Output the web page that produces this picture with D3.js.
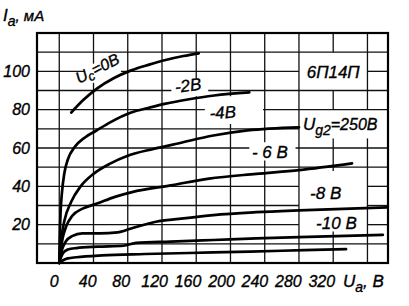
<!DOCTYPE html>
<html><head><meta charset="utf-8">
<script src="https://cdn.jsdelivr.net/npm/d3@7"></script>
<style>
body{margin:0;background:#fff}
#wrap{position:relative;width:409px;height:306px}
#wrap svg{position:absolute;left:0;top:0;display:block}
</style>
</head><body><div id="wrap"><svg id="bg" width="409" height="306"></svg><svg id="c" width="409" height="306"></svg></div>
<script>
// ---- data ----
const xTicks = [0,40,80,120,160,200,240,280,320];
const yTicks = [20,40,60,80,100];
const gridV = [0,40,80,120,160,200,240,280,320,360];
const gridI = [10,20,30,40,50,60,70,80,90,100,110];
const ucLabels = ["-2В","-4В","- 6 В","-8 В","-10 В"];
const uc0  = [[14,78.5],[28,85],[44,91],[64,96.5],[84,100.5],[105,103.5],[123,105.8],[145,108],[163,109.4]];
const uc2  = [[0,0],[0.5,12],[1.5,26],[3,36],[6,47],[10,54],[18,60.5],[30,65.5],[43,69],[60,73.5],[84,78.5],[105,81],[123,83],[150,85.3],[181,87.4],[222,89]];
const uc4  = [[0,0],[1,6],[2.5,13],[6,22],[14,32],[25,40],[40,46.5],[60,52],[80,56],[110,59.5],[140,62.5],[180,66.5],[220,69.2],[280,70.8]];
const uc6  = [[0,0],[1.5,6],[4,13],[8,19],[15,24.5],[28,28.5],[44,31],[65,34.5],[85,37],[130,40.5],[175,44],[230,46.5],[280,48.5],[342,52]];
const uc8  = [[0,0],[1.5,4],[4,8],[8,11.5],[15,14],[27,15.5],[47,15.5],[68,16],[84,18],[113,21.5],[140,23],[180,25],[230,26.5],[280,27.5],[383,29]];
const uc10 = [[0,0],[2,3],[5,5.5],[10,7],[20,7.8],[45,8.5],[75,9],[90,10.5],[130,11.2],[180,12],[230,12.8],[280,13.5],[378,14.7]];
const uc12 = [[0,0],[4,1.3],[10,2.4],[20,3],[50,4],[100,4.7],[180,5.5],[260,6.4],[335,7.2]];
const series = [uc0,uc2,uc4,uc6,uc8,uc10,uc12];
// grid gaps behind labels [V0,V1,I0,I1]
const gaps = [
  [280,360,90,110],[280,384,65,80],[280,360,29.5,48],[280,360,16.5,27.5],[310,330,16.5,48],
  [222,276,53.5,63],[170,238,72.5,87],[131,174,87,96],[30,72,94,104]
];

// ---- layout ----
const bg = d3.select('#bg');
const svg = d3.select('#c');
const x = d3.scaleLinear().domain([-26,384]).range([37,388]);
const y = d3.scaleLinear().domain([0,120]).range([263,33]);
const FONT = "Liberation Sans";

function cut(a0, a1, holes){
  let segs = [[a0,a1]];
  holes.forEach(([h0,h1])=>{
    const out=[];
    segs.forEach(([s0,s1])=>{
      if (h1<=s0 || h0>=s1) { out.push([s0,s1]); return; }
      if (h0>s0) out.push([s0,h0]);
      if (h1<s1) out.push([h1,s1]);
    });
    segs = out;
  });
  return segs;
}
const segsV = [], segsH = [];
gridV.forEach(v=>{
  const holes = gaps.filter(g=>v>g[0] && v<g[1]).map(g=>[g[2],g[3]]);
  cut(0,120,holes).forEach(([a,b])=>segsV.push({v:v,a:a,b:b}));
});
gridI.forEach(i=>{
  const holes = gaps.filter(g=>i>g[2] && i<g[3]).map(g=>[g[0],g[1]]);
  cut(-26,384,holes).forEach(([a,b])=>segsH.push({i:i,a:a,b:b}));
});
// grid in the background layer
bg.append('g').selectAll('line').data(segsV).join('line')
  .attr('x1',d=>x(d.v)).attr('x2',d=>x(d.v)).attr('y1',d=>y(d.a)).attr('y2',d=>y(d.b))
  .attr('stroke','#111').attr('stroke-width',1.3);
bg.append('g').selectAll('line').data(segsH).join('line')
  .attr('x1',d=>x(d.a)).attr('x2',d=>x(d.b)).attr('y1',d=>y(d.i)).attr('y2',d=>y(d.i))
  .attr('stroke','#111').attr('stroke-width',1.3);
// frame
bg.append('rect').attr('x',x(-26)).attr('y',y(120)).attr('width',x(384)-x(-26)).attr('height',y(0)-y(120))
  .attr('fill','none').attr('stroke','#000').attr('stroke-width',2.2);

// curves
const lineGen = d3.line().x(d=>x(d[0])).y(d=>y(d[1])).curve(d3.curveMonotoneX);
svg.append('g').selectAll('path').data(series).join('path')
  .attr('d',lineGen).attr('fill','none').attr('stroke','#000')
  .attr('stroke-width',2.7).attr('stroke-linecap','round').attr('stroke-linejoin','round');

// texts
function T(px, py, size){
  return svg.append('text').attr('x',px).attr('y',py)
    .attr('font-family',FONT).attr('font-style','italic').attr('font-size',size)
    .attr('fill','#000').attr('stroke','#000').attr('stroke-width',0.35);
}
yTicks.forEach(d=>{ T(30, y(d)+5.5, 16).attr('text-anchor','end').text(d); });
xTicks.forEach(d=>{ T(x(d)-5-d*0.02, 287, 16).attr('text-anchor','middle').text(d); });

const yt = T(3, 21, 17);
yt.append('tspan').text('I');
yt.append('tspan').attr('dy',5).attr('font-size',14).text('а');
yt.append('tspan').attr('dy',-5).attr('font-size',15).text(', мА');
const xt = T(343, 287, 17);
xt.append('tspan').text('U');
xt.append('tspan').attr('dy',5).attr('font-size',14).text('а');
xt.append('tspan').attr('dy',-5).text(', В');

const t0 = T(0, 0, 16).attr('transform',`translate(${x(23)},${y(93.4)}) rotate(-27)`);
t0.append('tspan').text('U');
t0.append('tspan').attr('dy',3).attr('font-size',13).text('с');
t0.append('tspan').attr('dy',-3).text('=0В');

const labs = [
  {t:ucLabels[0], v:136, i:88.7, r:-8},
  {t:ucLabels[1], v:176, i:75, r:-4},
  {t:ucLabels[2], v:225, i:54.8, r:0},
  {t:ucLabels[3], v:293, i:33.4, r:0},
  {t:ucLabels[4], v:300, i:17.7, r:0},
  {t:'6П14П', v:289, i:96.5, r:0}
];
labs.forEach(d=>{
  T(0,0,17).attr('transform',`translate(${x(d.v)},${y(d.i)}) rotate(${d.r})`).text(d.t);
});
const ug = T(x(284.6), y(69.6), 17);
ug.append('tspan').text('U');
ug.append('tspan').attr('dy',5).attr('font-size',14).text('g2');
ug.append('tspan').attr('dy',-5).attr('font-size',16).text('=250В');
</script></body></html>
